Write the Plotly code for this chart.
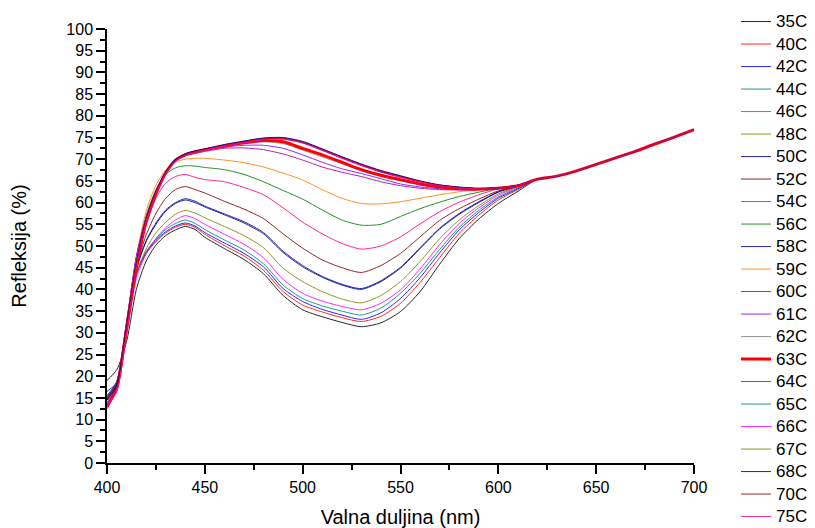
import plotly.graph_objects as go

# wavelengths (nm)
wl_head = [400, 405, 410, 415, 420, 425, 430, 435, 440, 445, 450, 460, 470, 480, 490,
           500, 510, 520, 530, 540, 550, 560, 570, 580, 590, 600, 610]
wl_tail = [620, 630, 640, 650, 660, 670, 680, 690, 700]
tail_vals = [65.4, 66.1, 67.3, 68.8, 70.3, 71.8, 73.5, 75.1, 76.8]

labels = ["35C", "40C", "42C", "44C", "46C", "48C", "50C", "52C", "54C", "56C", "58C", "59C",
          "60C", "61C", "62C", "63C", "64C", "65C", "66C", "67C", "68C", "70C", "75C"]

r35 = [19.0, 21.5, 28.0, 40.0, 46.5, 50.2, 52.4, 53.7, 54.5, 53.8, 52.0, 49.4, 46.9, 43.6, 38.6, 35.3, 33.7, 32.4, 31.4, 32.3, 34.9, 39.5, 45.8, 51.7, 56.2, 59.8, 62.6]
r40 = [12.5, 17.0, 30.0, 43.5, 48.3, 51.0, 53.0, 54.3, 55.0, 54.3, 52.7, 50.1, 47.7, 44.4, 39.5, 36.4, 34.8, 33.5, 32.6, 33.8, 36.8, 41.6, 47.3, 52.9, 57.1, 60.6, 63.0]
r42 = [16.5, 18.5, 30.5, 43.5, 48.5, 51.3, 53.3, 54.6, 55.3, 54.6, 53.1, 50.7, 48.3, 45.2, 40.2, 37.2, 35.4, 34.1, 33.1, 34.6, 37.9, 42.7, 48.4, 53.7, 57.7, 61.0, 63.2]
r44 = [15.5, 18.0, 30.5, 43.5, 48.7, 51.6, 53.8, 55.2, 56.0, 55.2, 53.8, 51.4, 49.1, 45.9, 41.0, 37.9, 36.2, 35.0, 34.1, 35.7, 39.1, 43.7, 49.2, 54.3, 58.2, 61.3, 63.4]
r46 = [13.5, 17.0, 29.5, 42.5, 48.2, 51.7, 54.2, 56.0, 57.0, 56.3, 55.0, 52.7, 50.4, 47.3, 42.3, 39.1, 37.3, 36.1, 35.3, 36.8, 39.9, 44.7, 50.3, 55.2, 58.8, 61.7, 63.6]
r48 = [15.0, 18.5, 30.5, 43.5, 49.3, 53.0, 55.5, 57.3, 58.2, 57.6, 56.5, 54.5, 52.4, 49.6, 44.9, 41.8, 39.5, 37.8, 36.9, 38.6, 41.8, 46.4, 51.7, 56.0, 59.3, 62.0, 63.7]
r50 = [15.0, 18.5, 31.0, 44.5, 51.0, 55.0, 58.0, 59.8, 60.6, 60.0, 59.0, 57.2, 55.3, 52.8, 48.5, 45.2, 42.8, 41.0, 40.0, 41.8, 44.9, 49.4, 53.9, 57.3, 60.0, 62.4, 63.8]
r52 = [15.0, 18.5, 31.0, 45.0, 52.5, 57.5, 61.0, 63.0, 63.7, 63.0, 62.2, 60.3, 58.5, 56.3, 52.8, 49.5, 46.8, 45.0, 43.9, 45.5, 48.3, 52.1, 55.9, 58.6, 60.8, 62.7, 63.9]
r54 = [14.5, 18.5, 31.5, 46.0, 55.0, 61.0, 64.5, 66.0, 66.5, 65.8, 65.3, 64.8, 63.5, 61.8, 58.8, 55.5, 52.8, 50.6, 49.3, 50.0, 52.1, 55.1, 57.9, 60.1, 61.8, 63.2, 64.0]
r56 = [14.5, 18.5, 32.0, 47.0, 57.0, 63.0, 66.5, 68.0, 68.5, 68.4, 68.1, 67.6, 66.5, 64.8, 62.8, 60.8, 58.3, 56.0, 54.8, 55.0, 56.8, 58.6, 60.1, 61.4, 62.4, 63.3, 64.0]
r58 = [15.5, 18.8, 31.3, 44.8, 51.2, 55.3, 58.3, 60.0, 60.9, 60.3, 59.2, 57.4, 55.6, 53.1, 48.8, 45.5, 43.0, 41.2, 40.2, 42.0, 45.1, 49.6, 54.1, 57.5, 60.2, 62.5, 63.9]
r59 = [14.5, 18.5, 32.0, 47.5, 58.0, 64.0, 67.5, 69.3, 70.0, 70.2, 70.2, 69.8, 69.2, 68.2, 66.8, 65.2, 63.0, 61.0, 59.8, 59.7, 60.2, 61.0, 61.8, 62.5, 63.0, 63.5, 64.0]
r60 = [14.5, 18.5, 32.5, 47.5, 56.5, 62.5, 66.8, 69.5, 70.8, 71.3, 71.8, 72.5, 72.6, 72.2, 71.2, 69.8, 68.2, 67.0, 66.0, 64.8, 63.9, 63.3, 63.0, 62.9, 63.0, 63.3, 63.9]
r61 = [14.5, 18.5, 32.5, 47.5, 56.5, 62.5, 66.8, 69.6, 70.9, 71.5, 72.0, 72.8, 73.2, 73.2, 72.5, 71.0, 69.3, 67.8, 66.7, 65.5, 64.3, 63.6, 63.2, 63.0, 63.0, 63.3, 63.9]
r62 = [15.0, 18.5, 32.0, 47.0, 56.0, 62.3, 66.7, 69.6, 71.0, 71.6, 72.1, 73.0, 73.6, 74.0, 73.6, 72.1, 70.5, 69.0, 67.3, 66.0, 65.0, 64.1, 63.5, 63.1, 63.0, 63.3, 63.9]
r63 = [13.0, 17.5, 31.0, 45.0, 55.5, 62.0, 66.8, 69.8, 71.0, 71.7, 72.2, 73.0, 73.8, 74.3, 74.0, 72.5, 71.0, 69.3, 67.6, 66.3, 65.3, 64.3, 63.6, 63.2, 63.1, 63.3, 63.9]
r64 = [14.0, 18.0, 31.5, 46.0, 56.0, 62.5, 67.0, 69.8, 71.2, 71.8, 72.3, 73.3, 74.1, 74.8, 74.9, 74.0, 72.3, 70.5, 68.8, 67.3, 66.1, 64.9, 64.0, 63.5, 63.2, 63.4, 64.0]
r65 = [15.5, 18.5, 31.5, 46.0, 56.0, 62.3, 66.8, 69.6, 71.0, 71.7, 72.2, 73.1, 73.9, 74.6, 74.7, 73.8, 72.1, 70.3, 68.6, 67.1, 65.9, 64.8, 63.9, 63.4, 63.2, 63.4, 64.0]
r66 = [13.0, 16.5, 30.5, 45.5, 55.5, 62.0, 66.6, 69.5, 71.0, 71.6, 72.1, 73.0, 73.8, 74.5, 74.6, 73.7, 72.0, 70.2, 68.5, 67.0, 65.8, 64.7, 63.9, 63.4, 63.2, 63.4, 64.0]
r67 = [15.0, 18.5, 31.5, 46.0, 56.0, 62.4, 66.9, 69.7, 71.1, 71.7, 72.2, 73.2, 74.0, 74.7, 74.8, 73.9, 72.2, 70.4, 68.7, 67.2, 66.0, 64.8, 64.0, 63.5, 63.2, 63.4, 64.0]
r68 = [14.5, 18.0, 31.5, 46.0, 56.2, 62.6, 67.1, 69.9, 71.3, 71.9, 72.4, 73.4, 74.2, 74.9, 75.0, 74.1, 72.4, 70.6, 68.9, 67.4, 66.2, 65.0, 64.1, 63.6, 63.3, 63.4, 64.0]
r70 = [15.0, 18.5, 31.5, 46.0, 56.0, 62.4, 66.9, 69.7, 71.1, 71.7, 72.3, 73.2, 74.0, 74.7, 74.8, 73.9, 72.2, 70.4, 68.7, 67.2, 66.0, 64.9, 64.0, 63.5, 63.2, 63.4, 64.0]
r75 = [13.5, 16.5, 30.5, 45.5, 55.8, 62.2, 66.8, 69.6, 71.0, 71.7, 72.2, 73.1, 73.9, 74.6, 74.7, 73.8, 72.1, 70.3, 68.6, 67.1, 65.9, 64.8, 63.9, 63.4, 63.2, 63.4, 64.0]

series = [r35, r40, r42, r44, r46, r48, r50, r52, r54, r56, r58, r59,
          r60, r61, r62, r63, r64, r65, r66, r67, r68, r70, r75]

colors = ["#000000", "#ff0000", "#0000ff", "#008080", "#ff00ff", "#808000", "#000080",
          "#800000", "#ff0080", "#008000", "#0000a0", "#ff8000", "#a000a0", "#8000ff",
          "#808080", "#ff0000", "#3030ff", "#008080", "#ff00ff", "#808000", "#000080",
          "#800000", "#ff0080"]

FONT = "Arial, Liberation Sans, sans-serif"

fig = go.Figure()
wl = wl_head + wl_tail
for name, vals, col in zip(labels, series, colors):
    w = 3 if name == "63C" else 1
    fig.add_trace(go.Scatter(
        x=wl, y=vals + tail_vals, mode="lines",
        name=f'<span style="font-size:17px">{name}</span>',
        line=dict(color=col, width=w, shape="spline", smoothing=0.7),
        opacity=0.85 if w == 1 else 1.0))

axis_common = dict(showline=True, linecolor="black", linewidth=1.5, ticks="outside",
                   tickcolor="black", tickwidth=1.5, ticklen=9, showgrid=False,
                   zeroline=False, mirror=False,
                   tickfont=dict(family=FONT, size=16, color="black"))

fig.update_xaxes(range=[400, 700], dtick=50, tick0=400,
                 minor=dict(dtick=25, ticks="outside", ticklen=5, tickcolor="black", tickwidth=1.5),
                 title=dict(text="Valna duljina (nm)", font=dict(family=FONT, size=20, color="black"),
                            standoff=16),
                 **axis_common)
fig.update_yaxes(range=[0, 100], dtick=5, tick0=0,
                 minor=dict(dtick=2.5, ticks="outside", ticklen=5, tickcolor="black", tickwidth=1.5),
                 title=dict(text="Refleksija (%)", font=dict(family=FONT, size=20, color="black"),
                            standoff=34),
                 **axis_common)

# the page body adds an 8px margin, so the figure is 8px smaller than the window
fig.update_layout(
    width=807, height=520,
    margin=dict(l=99, r=121, t=21, b=65, autoexpand=False),
    plot_bgcolor="white", paper_bgcolor="white",
    font=dict(family=FONT, color="black"),
    legend=dict(x=1.0716, xanchor="left", y=1.0546, yanchor="top",
                font=dict(family=FONT, size=15, color="black"),
                bgcolor="rgba(0,0,0,0)", borderwidth=0, tracegroupgap=0,
                maxheight=700),
    showlegend=True,
)

fig.write_html("out.html")
